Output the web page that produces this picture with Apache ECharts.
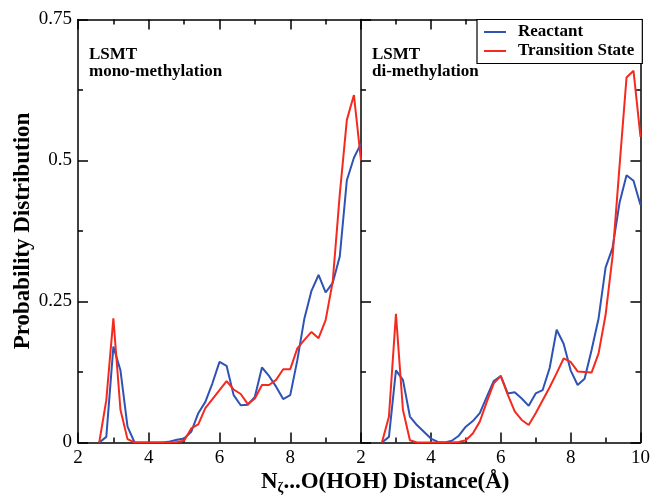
<!DOCTYPE html>
<html>
<head>
<meta charset="utf-8">
<script src="https://cdn.jsdelivr.net/npm/echarts@6/dist/echarts.min.js"></script>
<style>
  html, body { margin: 0; padding: 0; background: #fff; }
  #chart { width: 653px; height: 498px; }
</style>
</head>
<body>
<div id="chart"></div>
<script>
// N...O(HOH) distance (Å), sampled every 0.2
var dist = [2.6, 2.8, 3.0, 3.2, 3.4, 3.6, 3.8, 4.0, 4.2, 4.4, 4.6, 4.8, 5.0, 5.2, 5.4, 5.6, 5.8, 6.0, 6.2, 6.4,
  6.6, 6.8, 7.0, 7.2, 7.4, 7.6, 7.8, 8.0, 8.2, 8.4, 8.6, 8.8, 9.0, 9.2, 9.4, 9.6, 9.8, 10.0];

// mono-methylation panel
var monoReactant = [0, 0.01, 0.17, 0.128, 0.028, 0, 0, 0, 0, 0, 0.002, 0.005, 0.007, 0.019, 0.052, 0.072, 0.105, 0.143, 0.136, 0.084,
  0.066, 0.067, 0.081, 0.133, 0.118, 0.099, 0.077, 0.084, 0.146, 0.22, 0.269, 0.297, 0.266, 0.283, 0.33, 0.465, 0.505, 0.53];
var monoTS = [0, 0.075, 0.22, 0.058, 0.006, 0, 0, 0, 0, 0, 0, 0.001, 0.003, 0.025, 0.032, 0.061, 0.077, 0.093, 0.109, 0.094,
  0.086, 0.068, 0.078, 0.102, 0.102, 0.111, 0.13, 0.13, 0.167, 0.182, 0.196, 0.185, 0.217, 0.285, 0.44, 0.572, 0.616, 0.5];

// di-methylation panel
var diReactant = [0, 0.01, 0.128, 0.111, 0.046, 0.031, 0.019, 0.007, 0.001, 0, 0.003, 0.012, 0.028, 0.038, 0.052, 0.081, 0.109, 0.118, 0.087, 0.089,
  0.078, 0.065, 0.087, 0.093, 0.132, 0.2, 0.175, 0.128, 0.102, 0.113, 0.164, 0.22, 0.31, 0.345, 0.425, 0.474, 0.464, 0.421];
var diTS = [0, 0.046, 0.228, 0.058, 0.004, 0, 0, 0, 0, 0, 0, 0.001, 0.004, 0.016, 0.037, 0.072, 0.105, 0.118, 0.085, 0.055,
  0.04, 0.031, 0.052, 0.075, 0.098, 0.123, 0.149, 0.143, 0.126, 0.125, 0.124, 0.158, 0.226, 0.33, 0.49, 0.647, 0.659, 0.542];

var serif = "'Liberation Serif', 'Times New Roman', serif";
var blue = '#2f52b5';
var red = '#f52a1e';

function pairs(vals) {
  return dist.map(function (d, i) { return [d, vals[i]]; });
}

function xAx(grid, pos, labels, hideMax) {
  return {
    type: 'value', gridIndex: grid, position: pos, min: 2, max: 10, interval: 2,
    axisLine: { onZero: false, lineStyle: { color: '#000', width: 1.5 } },
    axisTick: { inside: true, length: 10, lineStyle: { color: '#000', width: 1.5 } },
    minorTick: { show: true, splitNumber: 2, length: 5, lineStyle: { color: '#000', width: 1.5 } },
    splitLine: { show: false },
    axisLabel: { show: labels, showMaxLabel: !hideMax, margin: 6, color: '#000', fontSize: 19, fontFamily: serif }
  };
}

function yAx(grid, pos, labels) {
  var ax = {
    type: 'value', gridIndex: grid, position: pos, min: 0, max: 0.75, interval: 0.25,
    axisLine: { show: true, onZero: false, lineStyle: { color: '#000', width: 1.5 } },
    axisTick: { show: true, inside: true, length: 10, lineStyle: { color: '#000', width: 1.5 } },
    minorTick: { show: true, splitNumber: 2, length: 5, lineStyle: { color: '#000', width: 1.5 } },
    splitLine: { show: false },
    axisLabel: { show: labels, margin: 6, color: '#000', fontSize: 19, fontFamily: serif }
  };
  if (labels) {
    ax.name = 'Probability Distribution';
    ax.nameLocation = 'middle';
    ax.nameRotate = 90;
    ax.nameGap = 43;
    ax.nameTextStyle = { color: '#000', fontSize: 23, fontWeight: 'bold', fontFamily: serif };
  }
  return ax;
}

function line(name, x, y, vals, color) {
  return {
    name: name, type: 'line', xAxisIndex: x, yAxisIndex: y, data: pairs(vals),
    symbol: 'none', lineStyle: { color: color, width: 2 }, itemStyle: { color: color },
    animation: false
  };
}

var chart = echarts.init(document.getElementById('chart'));
chart.setOption({
  backgroundColor: '#fff',
  animation: false,
  grid: [
    { left: 78, top: 19.5, width: 283, height: 423 },
    { left: 361, top: 19.5, width: 282, height: 423 }
  ],
  title: [
    { text: 'LSMT\nmono-methylation', left: 84, top: 41,
      textStyle: { color: '#000', fontSize: 17, fontWeight: 'bold', fontFamily: serif, lineHeight: 17 } },
    { text: 'LSMT\ndi-methylation', left: 367, top: 41,
      textStyle: { color: '#000', fontSize: 17, fontWeight: 'bold', fontFamily: serif, lineHeight: 17 } },
    { text: '{a|N}{b|ζ}{a|...O(HOH) Distance(Å)}', left: 256, top: 464,
      textStyle: {
        rich: {
          a: { color: '#000', fontSize: 23, fontWeight: 'bold', fontFamily: serif },
          b: { color: '#000', fontSize: 14, fontWeight: 'bold', fontFamily: serif, padding: [12, 0, 0, 0] }
        }
      } }
  ],
  legend: {
    orient: 'vertical', left: 477, top: 19.5,
    data: ['Reactant', 'Transition State'],
    itemWidth: 22, itemHeight: 14, itemGap: 2,
    padding: [4, 8, 4, 6],
    itemStyle: { opacity: 0 },
    borderColor: '#000', borderWidth: 1.2, borderRadius: 0,
    backgroundColor: '#fff',
    textStyle: { color: '#000', fontSize: 17, fontWeight: 'bold', fontFamily: serif, padding: [0, 0, 0, 7] }
  },
  xAxis: [
    xAx(0, 'bottom', true, true),
    xAx(0, 'top', false, false),
    xAx(1, 'bottom', true, false),
    xAx(1, 'top', false, false)
  ],
  yAxis: [
    yAx(0, 'left', true),
    yAx(1, 'left', false),
    yAx(1, 'right', false)
  ],
  series: [
    line('Reactant', 0, 0, monoReactant, blue),
    line('Transition State', 0, 0, monoTS, red),
    line('Reactant', 2, 1, diReactant, blue),
    line('Transition State', 2, 1, diTS, red)
  ]
});
</script>
</body>
</html>
